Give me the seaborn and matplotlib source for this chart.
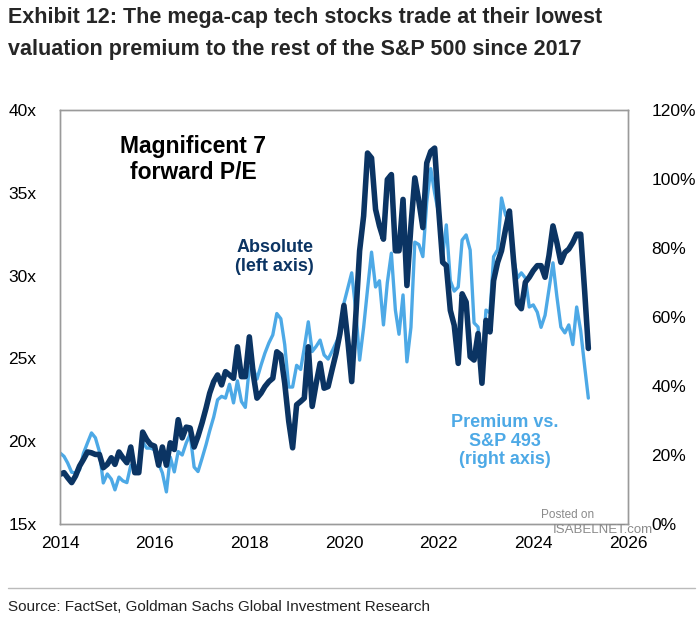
import numpy as np
import pandas as pd
import matplotlib
matplotlib.use("Agg")
import matplotlib.pyplot as plt
import seaborn as sns

# ---- data (monthly, Jan 2014 .. Mar 2025) ----
absolute_pe = [
    18.0, 18.1, 17.8, 17.5, 17.9, 18.5, 18.9, 19.35, 19.3, 19.2, 19.2, 18.4,
    18.6, 19.0, 18.6, 19.35, 19.0, 18.7, 19.65, 18.1, 18.1, 20.55, 20.1, 19.8,
    19.7, 18.55, 19.65, 18.55, 19.9, 19.5, 21.3, 20.2, 20.85, 20.8, 19.65, 20.3,
    21.1, 22.0, 22.9, 23.6, 24.0, 23.4, 24.2, 24.0, 23.8, 25.7, 23.9, 23.9,
    26.3, 24.0, 22.6, 22.9, 23.3, 23.6, 23.8, 25.4, 25.2, 23.5, 21.2, 19.6,
    22.2, 22.4, 22.6, 25.7, 22.1, 23.5, 24.7, 23.2, 23.3, 24.3, 25.3, 26.5,
    28.2, 26.0, 23.6, 27.5, 31.5, 33.6, 37.4, 37.1, 34.0, 33.0, 32.2, 35.8,
    36.1, 31.5, 31.5, 34.6, 29.4, 33.0, 35.9, 34.5, 32.9, 36.8, 37.5, 37.7,
    34.0, 30.8, 30.6, 27.9, 27.0, 24.7, 28.9, 28.4, 25.1, 24.9, 26.5, 23.5,
    27.3, 26.6, 29.7, 30.8, 31.5, 32.8, 33.9, 31.0, 28.3, 28.0, 29.6, 29.9,
    30.3, 30.6, 30.6, 29.9, 31.2, 33.0, 32.0, 30.8, 31.4, 31.6, 32.0, 32.5,
    32.5, 29.0, 25.6,
]
premium_pct = [
    20.6, 19.6, 17.7, 15.0, 14.8, 15.7, 20.5, 23.5, 26.4, 25.0, 21.0, 11.9,
    14.5, 13.0, 9.9, 13.6, 12.5, 12.0, 17.0, 17.0, 16.5, 23.8, 22.0, 22.0,
    21.5, 17.5, 14.8, 9.3, 19.4, 15.1, 21.0, 20.0, 23.5, 26.0, 16.5, 15.2,
    19.0, 23.0, 27.0, 31.0, 36.0, 37.0, 36.5, 40.5, 35.1, 41.5, 35.5, 33.8,
    45.5, 45.0, 42.0, 46.0, 49.5, 52.5, 54.8, 61.0, 59.5, 52.0, 39.7, 39.7,
    46.0, 44.8, 51.0, 58.6, 50.0, 51.5, 53.3, 49.0, 47.8, 50.0, 52.5, 55.0,
    64.0, 68.5, 72.8, 62.0, 47.5, 57.0, 68.0, 78.8, 68.7, 70.5, 57.7, 70.0,
    78.5, 62.0, 55.0, 66.4, 47.0, 57.0, 81.7, 81.0, 77.5, 93.3, 103.0, 95.9,
    90.0, 78.0, 86.7, 70.5, 67.5, 68.7, 82.3, 83.8, 79.4, 58.3, 57.1, 44.6,
    62.0, 61.2, 77.5, 79.5, 94.5, 89.6, 87.5, 77.1, 71.3, 72.8, 71.3, 62.9,
    63.5, 61.4, 57.0, 60.5, 68.0, 75.7, 66.0, 57.1, 55.4, 57.7, 52.0, 62.9,
    56.0, 45.5, 36.5,
]
dates = pd.date_range("2014-01-01", periods=len(absolute_pe), freq="MS")
year_ticks = [2014, 2016, 2018, 2020, 2022, 2024, 2026]
left_ticks = [15, 20, 25, 30, 35, 40]
right_ticks = [0, 20, 40, 60, 80, 100, 120]

df = pd.DataFrame({"date": dates, "absolute": absolute_pe, "premium": premium_pct})

DARK = "#0B3463"
LIGHT = "#4DA9E6"

sns.set_style("white")
plt.rcParams["font.family"] = ["Liberation Sans", "DejaVu Sans"]

fig = plt.figure(figsize=(7, 6.3), dpi=100)
ax = fig.add_axes([60 / 700, 1 - 524 / 630, (628 - 60) / 700, (524 - 110) / 630])
ax2 = ax.twinx()

sns.lineplot(data=df, x="date", y="premium", ax=ax2, color=LIGHT, lw=2.4)
sns.lineplot(data=df, x="date", y="absolute", ax=ax, color=DARK, lw=4.0)

ax.set_zorder(ax2.get_zorder() + 1)
ax.patch.set_visible(False)

ax.set_xlim(pd.Timestamp("2014-01-01"), pd.Timestamp("2026-01-01"))
ax.set_ylim(15, 40)
ax2.set_ylim(0, 120)
ax.set_xticks([pd.Timestamp(f"{y}-01-01") for y in year_ticks])
ax.set_xticklabels([str(y) for y in year_ticks])
ax.set_yticks(left_ticks)
ax.set_yticklabels([f"{v}x" for v in left_ticks])
ax2.set_yticks(right_ticks)
ax2.set_yticklabels([f"{v}%" for v in right_ticks])
for a in (ax, ax2):
    a.set_xlabel("")
    a.set_ylabel("")
    a.tick_params(length=0, labelsize=12.5, colors="black")
    for s in a.spines.values():
        s.set_color("#9a9a9a")
        s.set_linewidth(1.0)
ax.tick_params(axis="y", pad=17)
ax2.tick_params(axis="y", pad=17)
ax.tick_params(axis="x", pad=9)

# annotations
ax.text(0.235, 0.88, "Magnificent 7\nforward P/E", transform=ax.transAxes,
        ha="center", va="center", fontsize=16.5, fontweight="bold",
        color="black", linespacing=1.15)
ax.text(0.378, 0.645, "Absolute\n(left axis)", transform=ax.transAxes,
        ha="center", va="center", fontsize=13, fontweight="bold",
        color=DARK, linespacing=1.1)
ax.text(0.783, 0.2, "Premium vs.\nS&P 493\n(right axis)", transform=ax.transAxes,
        ha="center", va="center", fontsize=13, fontweight="bold",
        color=LIGHT, linespacing=1.1)

# watermark
fig.text(568 / 700, 1 - 515 / 630, "Posted on", ha="center", va="center",
         fontsize=8.5, color="#8a8a8a")
fig.text(603 / 700, 1 - 530 / 630, "ISABELNET.com", ha="center", va="center",
         fontsize=9.5, color="#8a8a8a")

# title and source
title_font = ["Liberation Sans Narrow", "Liberation Sans", "DejaVu Sans"]
fig.text(8 / 700, 1 - 18 / 630, "Exhibit 12: The mega-cap tech stocks trade at their lowest",
         ha="left", va="center", fontsize=15.5, fontweight="bold", family=title_font)
fig.text(8 / 700, 1 - 50 / 630, "valuation premium to the rest of the S&P 500 since 2017",
         ha="left", va="center", fontsize=15.5, fontweight="bold", family=title_font)
fig.add_artist(plt.Line2D([8 / 700, 695 / 700], [1 - 588 / 630, 1 - 588 / 630],
                          color="#bbbbbb", lw=1.0))
fig.text(8 / 700, 1 - 607 / 630, "Source: FactSet, Goldman Sachs Global Investment Research",
         ha="left", va="center", fontsize=11, family=title_font, color="#222222")

fig.savefig("out.png", dpi=100)
